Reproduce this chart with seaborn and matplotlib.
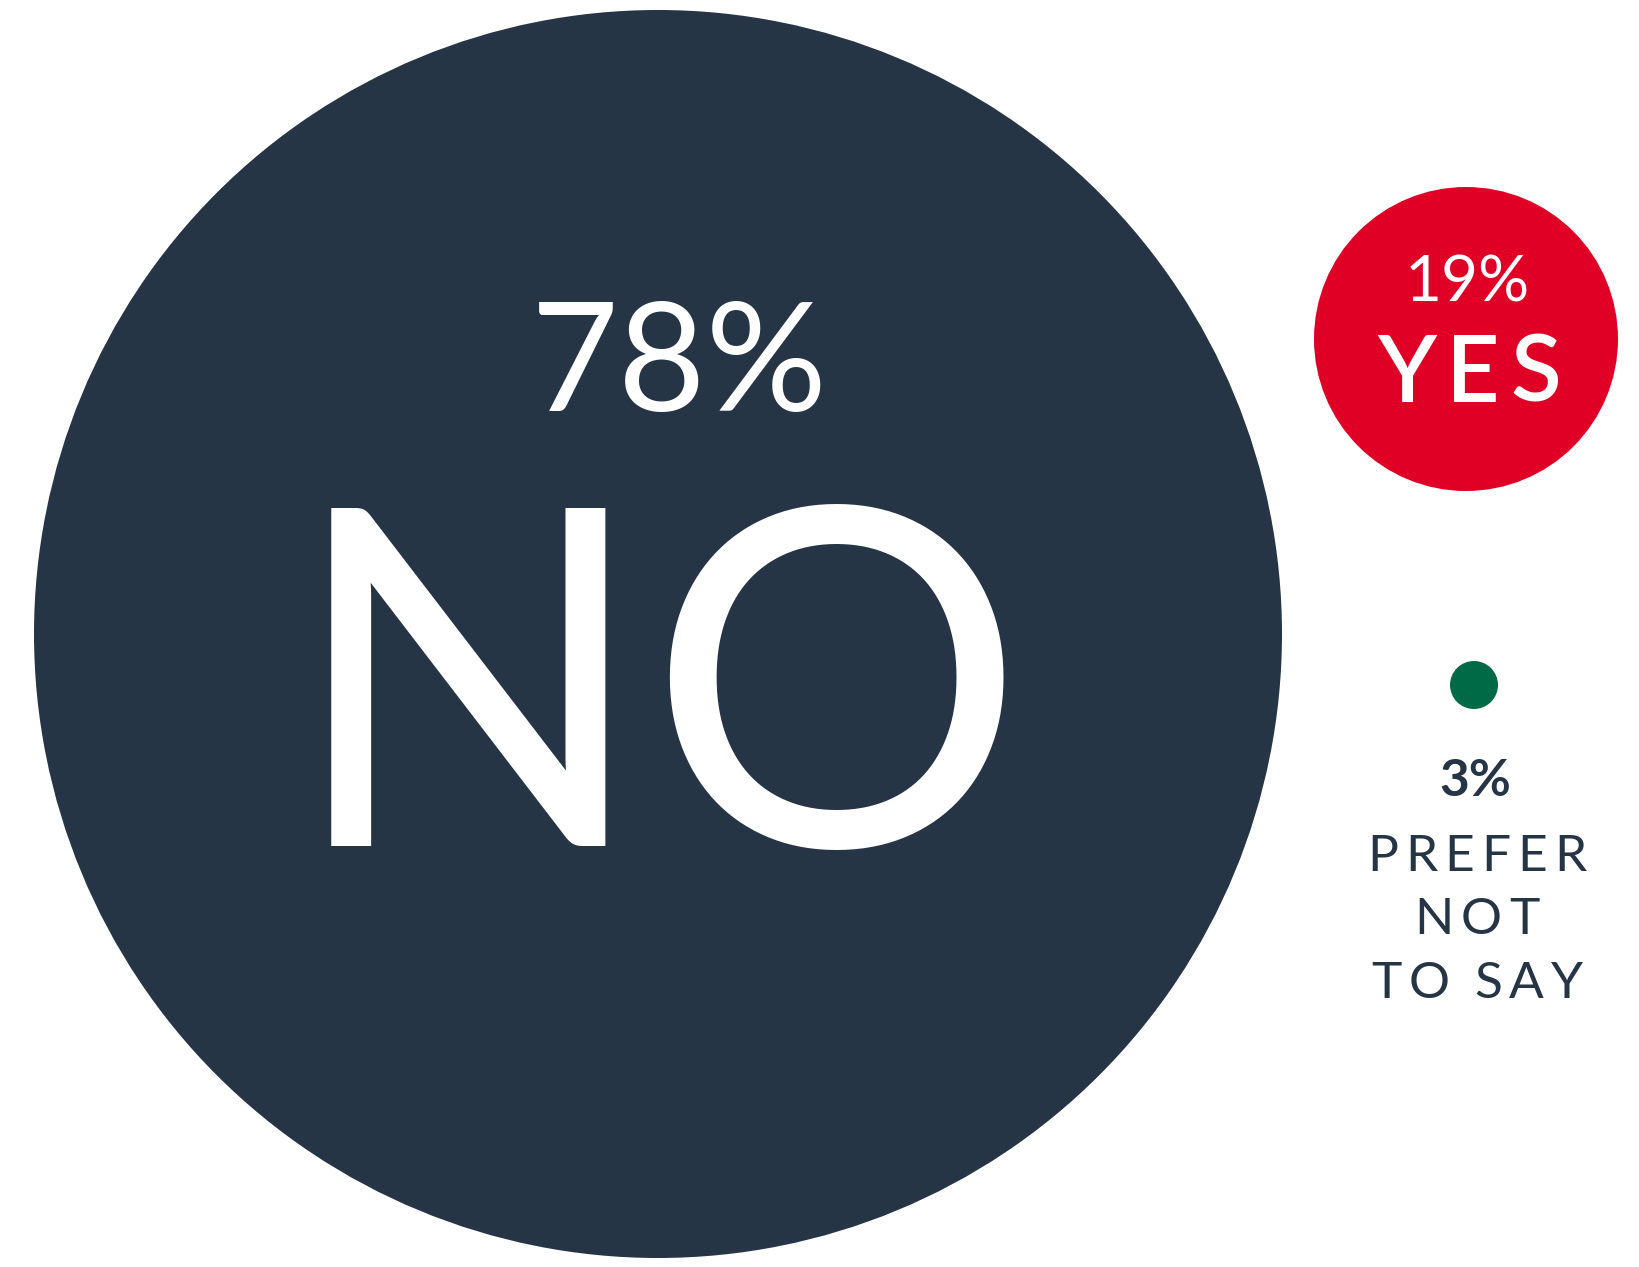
import matplotlib
matplotlib.use("Agg")
import matplotlib.pyplot as plt
import seaborn as sns
import pandas as pd

sns.set_theme(style="white")
plt.rcParams['font.family'] = ['Lato', 'DejaVu Sans']

# data
labels = ["NO", "YES", "PREFER NOT TO SAY"]
values = [78, 19, 3]
colors = ["#253546", "#E00025", "#006A46"]

# layout (pixel coords, y down)
W, H, DPI = 1639, 1267, 100
centers_x = [658, 1466, 1474]
centers_y = [634, 339, 685]
px_per_pct = 8.0

df = pd.DataFrame({"label": labels, "value": values,
                   "x": centers_x, "y": centers_y})
# marker area in pt^2: diameter in pixels -> points
df["s"] = (2 * df["value"] * px_per_pct * 72 / DPI) ** 2

fig = plt.figure(figsize=(W / DPI, H / DPI), dpi=DPI)
ax = fig.add_axes([0, 0, 1, 1])
sns.scatterplot(data=df, x="x", y="y", hue="label", palette=colors,
                s=df["s"].tolist(), linewidth=0, legend=False, ax=ax)
ax.set_xlim(0, W)
ax.set_ylim(H, 0)
ax.set_aspect("equal")
ax.axis("off")

renderer = fig.canvas.get_renderer()


def spaced_text(x, y, s, track, **kw):
    """Text with extra letter spacing, centred on x (pixels)."""
    fs = kw.get("fontsize", 12)
    widths = []
    for ch in s:
        if ch == " ":
            widths.append(fs * 100 / 72 * 0.2)
            continue
        t = ax.text(0, 0, ch, **kw)
        widths.append(t.get_window_extent(renderer).width)
        t.remove()
    total = sum(widths) + track * (len(s) - 1)
    cx = x - total / 2
    for ch, w in zip(s, widths):
        if ch != " ":
            ax.text(cx, y, ch, ha="left", va="baseline", **kw)
        cx += w + track


navy = colors[0]
# big bubble
ax.text(679, 411, f"{values[0]}%", color="white", fontsize=109,
        ha="center", va="baseline")
ax.text(657, 846, "NO", color="white", fontsize=340,
        ha="center", va="baseline")
# red bubble
ax.text(1467, 302, f"{values[1]}%", color="white", fontsize=46,
        ha="center", va="baseline")
spaced_text(1469, 402, "YES", 10, color="white", fontsize=67,
            fontweight="semibold")
# small bubble, label below
ax.text(1475, 796, f"{values[2]}%", color=navy, fontsize=37,
        fontweight="bold", ha="center", va="baseline")
for txt, yb in [("PREFER", 871), ("NOT", 934), ("TO SAY", 998)]:
    spaced_text(1477, yb, txt, 7, color=navy, fontsize=37)

fig.savefig("out.png", dpi=DPI, facecolor="white")
